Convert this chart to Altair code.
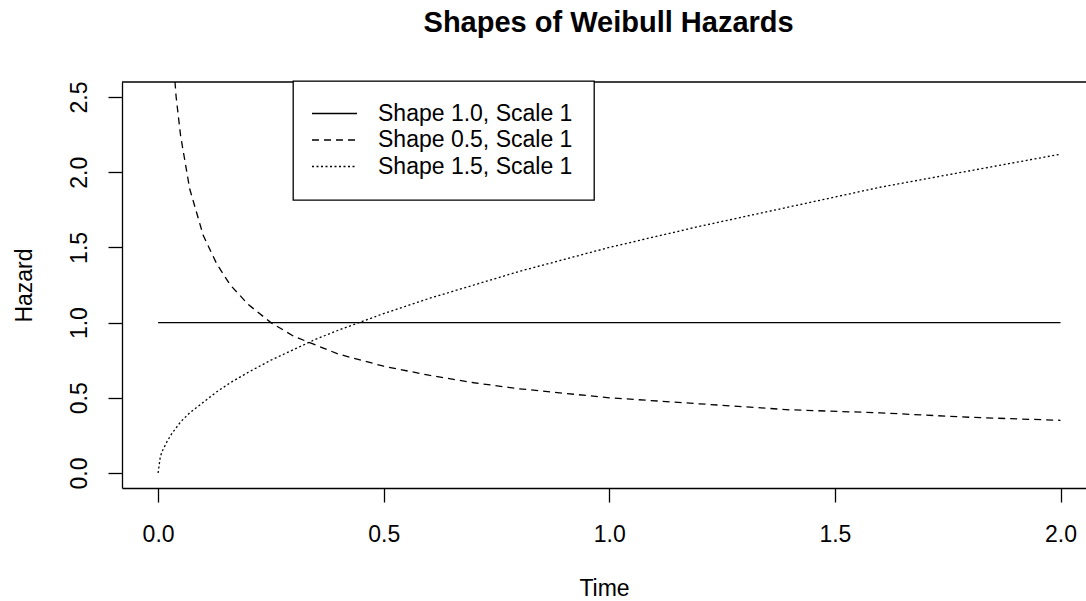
import altair as alt
import pandas as pd

# Time grid and hazard values for the three Weibull curves (scale = 1)
time = [0.00, 0.005, 0.01, 0.02, 0.03, 0.04, 0.05, 0.07, 0.10, 0.13, 0.16, 0.20,
        0.25, 0.30, 0.35, 0.40, 0.50, 0.60, 0.70, 0.80, 0.90, 1.00, 1.20, 1.40,
        1.60, 1.80, 2.00]

shape_10 = [1.00] * len(time)

shape_05 = [None, 7.07, 5.00, 3.54, 2.89, 2.50, 2.24, 1.89, 1.58, 1.39, 1.25, 1.12,
            1.00, 0.91, 0.85, 0.79, 0.71, 0.65, 0.60, 0.56, 0.53, 0.50, 0.46, 0.42,
            0.40, 0.37, 0.35]

shape_15 = [0.00, 0.11, 0.15, 0.21, 0.26, 0.30, 0.34, 0.40, 0.47, 0.54, 0.60, 0.67,
            0.75, 0.82, 0.89, 0.95, 1.06, 1.16, 1.25, 1.34, 1.42, 1.50, 1.64, 1.77,
            1.90, 2.01, 2.12]

series_names = ["Shape 1.0, Scale 1", "Shape 0.5, Scale 1", "Shape 1.5, Scale 1"]
dash_patterns = [[1, 0], [7, 5], [2, 2.5]]

x_ticks = [0.0, 0.5, 1.0, 1.5, 2.0]
y_ticks = [0.0, 0.5, 1.0, 1.5, 2.0, 2.5]

rows = []
for name, values in zip(series_names, [shape_10, shape_05, shape_15]):
    for t, h in zip(time, values):
        if h is not None:
            rows.append({"Time": t, "Hazard": h, "Series": name})
df = pd.DataFrame(rows)

FONT = "Liberation Sans"
W, H = 964, 406
LW = 1.3

x_scale = alt.Scale(domain=[-0.08, 2.0565], nice=False, zero=False)
y_scale = alt.Scale(domain=[-0.1, 2.6], nice=False, zero=False)

# legend key: a long horizontal stroke drawn from a small symbol size,
# so the key rows stay as tall as the label text
legend_key = "M-3,0H3"

lines = alt.Chart(df).mark_line(color="black", strokeWidth=LW, clip=True).encode(
    x=alt.X("Time:Q", scale=x_scale,
            axis=alt.Axis(values=x_ticks, format=".1f", title="Time",
                          labelPadding=39, labelBaseline="alphabetic",
                          labelFlush=False,
                          titleX=W / 2, titleY=107.5, titleAlign="center",
                          titleBaseline="alphabetic")),
    y=alt.Y("Hazard:Q", scale=y_scale,
            axis=alt.Axis(values=y_ticks, format=".1f", title="Hazard",
                          labelAngle=270, labelAlign="center",
                          labelBaseline="alphabetic", labelPadding=21.6,
                          titleX=-91, titleY=H / 2, titleAngle=270,
                          titleAlign="center", titleBaseline="alphabetic")),
    strokeDash=alt.StrokeDash(
        "Series:N",
        sort=series_names,
        scale=alt.Scale(domain=series_names, range=dash_patterns),
        legend=alt.Legend(title=None, orient="none", legendX=171, legendY=-1,
                          direction="vertical", symbolType=legend_key,
                          symbolSize=225, symbolOffset=9,
                          symbolStrokeWidth=LW, symbolStrokeColor="black",
                          labelFont=FONT, labelFontSize=23, labelColor="black",
                          labelOffset=32, labelLimit=400, padding=21,
                          rowPadding=2.5, fillColor="white",
                          strokeColor="black"),
    ),
)

# upper edge of the plotting frame
top_edge = alt.Chart(pd.DataFrame({"edge": [0]})).mark_rule(
    color="black", strokeWidth=LW
).encode(x=alt.value(0), x2=alt.value(W), y=alt.value(0))

chart = (
    alt.layer(lines, top_edge)
    .properties(
        width=W,
        height=H,
        autosize=alt.AutoSizeParams(type="none"),
        padding={"left": 122, "top": 82, "right": 0, "bottom": 113},
        title=alt.Title("Shapes of Weibull Hazards", font=FONT, fontSize=29,
                        fontWeight="bold", color="black", anchor="middle",
                        baseline="alphabetic", offset=19, dx=4.6),
    )
    .configure_view(stroke=None)
    .configure_axis(
        grid=False,
        domainColor="black", domainWidth=LW,
        tickColor="black", tickWidth=LW, tickSize=14,
        labelFont=FONT, labelFontSize=23, labelColor="black",
        titleFont=FONT, titleFontSize=23, titleFontWeight="normal",
        titleColor="black",
    )
    .configure_legend(strokeWidth=LW)
)

chart.save("out.html", embed_options={"renderer": "svg", "actions": False})
